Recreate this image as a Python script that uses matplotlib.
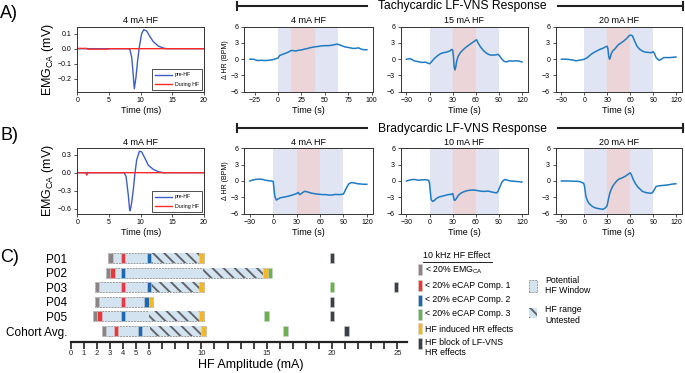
import matplotlib
matplotlib.use('Agg')
import matplotlib.pyplot as plt
from matplotlib.patches import Rectangle
from matplotlib.lines import Line2D

plt.rcParams['font.family'] = ['Liberation Sans', 'DejaVu Sans']
plt.rcParams['mathtext.fontset'] = 'custom'
plt.rcParams['mathtext.rm'] = 'Liberation Sans'
plt.rcParams['mathtext.it'] = 'Liberation Sans:italic'
plt.rcParams['mathtext.bf'] = 'Liberation Sans:bold'
plt.rcParams['hatch.linewidth'] = 1.35
plt.rcParams['hatch.color'] = '#5f6368'

# ---------------- data ----------------
# EMG (panel A / B), time in ms, amplitude in mV
emgA_pre_t = [0, 8.0, 8.3, 8.6, 8.84, 9.0, 9.26, 9.53, 9.8, 10.16, 10.5, 10.95, 11.5, 12.0, 12.8, 13.6, 14.1, 20]
emgA_pre_v = [0, 0, -0.005, -0.06, -0.18, -0.265, -0.19, -0.075, 0.013, 0.10, 0.126, 0.117, 0.078, 0.046, 0.017, 0.004, 0, 0]
emgA_dur_t = [0, 1.5, 1.6, 5.0, 5.1, 20]
emgA_dur_v = [0.002, 0.002, -0.003, -0.003, 0, 0]

emgB_pre_t = [0, 7.4, 7.7, 8.05, 8.25, 8.35, 8.58, 8.84, 9.1, 9.37, 9.8, 10.16, 10.7, 11.2, 12.0, 12.8, 13.6, 20]
emgB_pre_v = [0, 0, -0.065, -0.37, -0.6, -0.63, -0.5, -0.28, -0.01, 0.21, 0.355, 0.345, 0.235, 0.125, 0.055, 0.016, 0, 0]
emgB_dur_t = [0, 1.3, 1.5, 1.7, 20]
emgB_dur_v = [0, 0, -0.04, 0, 0]

# Heart-rate responses (s, delta BPM)
tachy_titles = ['4 mA HF', '15 mA HF', '20 mA HF']
tachy_t = [
    [-30, -26, -22, -18, -14, -10, -6, -2, 0, 2, 5, 8, 11, 14, 16, 19, 22, 25, 28, 31, 34, 37, 40, 43, 46, 50, 54, 58, 61, 63, 65, 68, 71, 74, 77, 80, 83, 86, 89, 92, 95],
    [-30, -25, -20, -15, -10, -5, -2, 0, 3, 6, 10, 14, 18, 22, 26, 29, 30, 31, 32, 33, 34, 35, 37, 40, 44, 48, 52, 56, 60, 61, 63, 66, 70, 74, 78, 82, 86, 89, 91, 94, 97, 100, 104, 108, 112, 116, 120],
    [-30, -25, -20, -15, -11, -7, -3, 0, 4, 8, 12, 16, 20, 24, 28, 30, 31, 32, 33, 34, 35, 37, 40, 44, 48, 52, 56, 59, 61, 63, 66, 69, 72, 76, 80, 84, 88, 90, 92, 94, 96, 98, 101, 104, 108, 112, 116, 120],
]
tachy_v = [
    [0.0, 0.0, -0.25, -0.2, -0.25, -0.2, -0.1, 0.1, 0.2, 0.7, 0.9, 1.1, 1.3, 1.6, 1.6, 1.5, 1.65, 1.7, 1.85, 1.95, 2.1, 2.2, 2.3, 2.35, 2.45, 2.5, 2.5, 2.6, 2.7, 2.8, 2.7, 2.5, 2.3, 2.2, 2.1, 2.0, 2.0, 2.1, 1.85, 1.75, 1.75],
    [0.0, 0.1, -0.3, -0.45, -0.6, -0.55, -0.75, -0.85, -0.4, 0.1, 0.6, 1.0, 1.2, 1.3, 1.5, 1.8, 1.7, 0.5, -1.5, -2.0, -1.5, -0.5, 0.5, 1.2, 1.8, 2.3, 2.7, 3.1, 3.5, 3.6, 3.0, 2.3, 1.6, 1.1, 0.8, 0.75, 0.8, 0.9, 0.6, 0.0, -0.4, -0.5, -0.3, -0.35, -0.3, -0.35, -0.5],
    [0.0, 0.0, -0.05, -0.15, -0.3, -0.2, -0.1, 0.0, 0.3, 0.8, 1.2, 1.5, 1.8, 2.0, 2.3, 2.4, 1.8, 0.5, 0.0, 0.3, 0.9, 1.5, 1.9, 2.6, 3.0, 3.4, 3.9, 4.4, 4.45, 4.3, 3.3, 2.4, 1.9, 1.5, 1.3, 1.25, 1.2, 1.4, 1.0, 0.3, 0.0, -0.2, 0.0, 0.3, 0.3, 0.3, 0.35, 0.4],
]
tachy_edges = [[0, 14, 40, 64], [0, 30, 60, 90], [0, 30, 60, 90]]
tachy_xticks = [[-25, 0, 25, 50, 75, 100], [-30, 0, 30, 60, 90, 120], [-30, 0, 30, 60, 90, 120]]

brady_titles = ['4 mA HF', '10 mA HF', '20 mA HF']
brady_t = [
    [-30, -26, -22, -18, -14, -10, -6, -2, 0, 1, 2, 4, 6, 9, 12, 16, 20, 24, 28, 30, 32, 34, 37, 40, 44, 48, 52, 56, 60, 64, 68, 72, 76, 80, 84, 88, 90, 92, 94, 97, 100, 104, 108, 112, 116, 120],
    [-30, -25, -20, -15, -10, -5, -1, 0, 1, 2, 4, 6, 9, 12, 16, 20, 24, 28, 30, 31, 32, 33, 35, 37, 40, 44, 48, 52, 56, 60, 64, 68, 72, 76, 80, 84, 87, 89, 91, 93, 95, 98, 102, 106, 110, 114, 118, 120],
    [-30, -25, -20, -15, -10, -6, -3, -1, 0, 1, 2, 4, 6, 9, 12, 16, 20, 24, 27, 29, 30, 31, 33, 35, 37, 40, 43, 46, 50, 54, 58, 60, 61, 62, 64, 67, 70, 73, 76, 80, 84, 88, 90, 92, 94, 97, 100, 104, 108, 112, 116, 120],
]
brady_v = [
    [0.0, 0.2, 0.3, 0.35, 0.3, 0.15, 0.05, 0.0, -0.1, -1.5, -2.8, -3.5, -3.3, -3.1, -3.0, -2.9, -2.75, -2.6, -2.4, -2.3, -2.1, -2.5, -2.2, -1.9, -2.0, -2.2, -2.3, -2.4, -2.45, -2.5, -2.5, -2.6, -2.55, -2.45, -2.5, -2.45, -2.4, -1.8, -1.2, -0.5, -0.3, -0.35, -0.5, -0.55, -0.6, -0.6],
    [0.0, 0.2, 0.3, 0.15, 0.2, 0.25, 0.1, -0.5, -2.0, -3.4, -3.75, -3.6, -3.2, -2.95, -2.8, -2.65, -2.5, -2.45, -2.3, -2.8, -3.5, -3.55, -3.2, -2.7, -2.3, -2.0, -1.8, -1.7, -1.65, -1.7, -1.8, -1.9, -1.9, -1.85, -2.0, -2.1, -2.2, -1.9, -1.2, -0.5, 0.0, 0.3, 0.1, 0.0, -0.05, -0.1, -0.15, -0.2],
    [0.0, 0.0, 0.0, -0.05, -0.05, -0.1, -0.3, -0.4, -0.8, -1.7, -2.8, -3.6, -4.1, -4.5, -4.8, -5.0, -5.1, -5.2, -5.0, -4.7, -4.4, -3.7, -2.4, -1.6, -1.0, -0.4, 0.1, 0.4, 0.6, 0.9, 1.3, 1.5, 1.3, 1.0, 0.3, -0.5, -1.1, -1.5, -1.9, -2.1, -2.2, -2.25, -2.0, -1.5, -1.0, -0.9, -0.85, -0.8, -0.75, -0.65, -0.55, -0.5],
]
brady_edges = [[0, 30, 60, 90], [0, 30, 60, 90], [0, 30, 60, 90]]
brady_xticks = [[-30, 0, 30, 60, 90, 120]] * 3

# Panel C thresholds (mA); None = not observed
participants = ['P01', 'P02', 'P03', 'P04', 'P05', 'Cohort Avg.']
thr_emg = [3.05, 2.85, 2.0, 2.0, 1.85, 2.55]
thr_ecap1 = [4.0, 3.2, 4.0, 4.0, 2.2, 3.45]
thr_ecap2 = [6.0, 4.0, 6.0, 5.8, 4.0, 5.3]
thr_ecap3 = [None, 15.2, 20.0, None, 15.0, 16.45]
thr_hr_effect = [10.0, 14.9, 10.0, 6.15, 10.0, 10.15]
thr_hr_block = [20.0, None, 24.9, 20.0, 20.0, 21.1]
untested_lo = [6.0, 10.15, 6.0, None, 6.0, 6.1]
untested_hi = [9.9, 14.75, 9.9, None, 9.9, 10.0]
amp_labeled = [0, 1, 2, 3, 4, 5, 6, 10, 15, 20, 25]

effect_labels = ['< 20% EMG$_{\\mathrm{CA}}$', '< 20% eCAP Comp. 1', '< 20% eCAP Comp. 2',
                 '< 20% eCAP Comp. 3', 'HF induced HR effects', 'HF block of LF-VNS\nHR effects']
effect_colors = ['#8b8386', '#e8383d', '#1c67b1', '#6db14f', '#f2b724', '#3b4045']

# ---------------- styling ----------------
BLUE_PRE = '#3d5fc4'
RED_DUR = '#ff2a2a'
HR_COLOR = '#1f7bc2'
SPAN_BLUE = '#e1e4f3'
SPAN_RED = '#ecd5d8'
WIN_COLOR = '#d3e3f0'

W, H = 685, 373
fig = plt.figure(figsize=(W / 100, H / 100), dpi=100)


def box(l, t, r, b):
    return [l / W, 1 - b / H, (r - l) / W, (b - t) / H]


def fx(x):
    return x / W


def fy(y):
    return 1 - y / H


def style_small(ax):
    ax.tick_params(labelsize=5, length=2.5, width=0.6, pad=1.5, colors='#333333', labelcolor='black')
    for s in ax.spines.values():
        s.set_linewidth(0.7)
        s.set_color('#333333')


def emg_panel(rect, pre_t, pre_v, dur_t, dur_v, yticks):
    ax = fig.add_axes(rect)
    ax.plot(pre_t, pre_v, color=BLUE_PRE, lw=1.0, label='pre-HF')
    ax.plot(dur_t, dur_v, color=RED_DUR, lw=1.0, label='During HF')
    ax.set_xlim(0, 20)
    ax.set_xticks([0, 5, 10, 15, 20])
    ax.set_yticks(yticks)
    ax.set_title('4 mA HF', fontsize=6.5, pad=2.5)
    ax.set_xlabel('Time (ms)', fontsize=6.5, labelpad=1)
    ax.set_ylabel(r'EMG$_{\mathrm{CA}}$ (mV)', fontsize=9, labelpad=1.5)
    style_small(ax)
    leg = ax.legend(loc='lower right', fontsize=3.8, frameon=True, fancybox=False,
                    edgecolor='black', handlelength=3.2, borderaxespad=0.35,
                    borderpad=0.6, labelspacing=0.8, handletextpad=0.6)
    leg.get_frame().set_linewidth(0.6)
    return ax


def hr_panel(rect, t, v, edges, title, xticks, ylabel):
    ax = fig.add_axes(rect)
    ax.axvspan(edges[0], edges[1], color=SPAN_BLUE, lw=0)
    ax.axvspan(edges[1], edges[2], color=SPAN_RED, lw=0)
    ax.axvspan(edges[2], edges[3], color=SPAN_BLUE, lw=0)
    ax.plot(t, v, color=HR_COLOR, lw=1.1)
    ax.set_ylim(-6, 6)
    ax.set_yticks([-6, -3, 0, 3, 6])
    ax.set_xticks(xticks)
    ax.set_title(title, fontsize=6.5, pad=2.5)
    ax.set_xlabel('Time (s)', fontsize=6.5, labelpad=1)
    if ylabel:
        ax.set_ylabel('\u0394 HR (BPM)', fontsize=5, labelpad=1)
    style_small(ax)
    return ax


# Row A
emg_panel(box(77.3, 26.7, 204, 91.7), emgA_pre_t, emgA_pre_v, emgA_dur_t, emgA_dur_v, [-0.2, -0.1, 0.0, 0.1])
hr_lefts = [244, 400.7, 555.7]
hr_rights = [372.7, 527.7, 681.7]
for i in range(3):
    hr_panel(box(hr_lefts[i], 26.7, hr_rights[i], 91.7), tachy_t[i], tachy_v[i], tachy_edges[i],
             tachy_titles[i], tachy_xticks[i], i == 0)

# Row B
emg_panel(box(77.3, 148.3, 204, 213.7), emgB_pre_t, emgB_pre_v, emgB_dur_t, emgB_dur_v, [-0.6, -0.3, 0.0, 0.3])
for i in range(3):
    hr_panel(box(hr_lefts[i], 148.3, hr_rights[i], 213.7), brady_t[i], brady_v[i], brady_edges[i],
             brady_titles[i], brady_xticks[i], i == 0)

# Headers
for yc, txt in [(5.5, 'Tachycardic LF-VNS Response'), (128.3, 'Bradycardic LF-VNS Response')]:
    fig.add_artist(Line2D([fx(237.3), fx(366.7)], [fy(yc), fy(yc)], color='#222222', lw=1.5))
    fig.add_artist(Line2D([fx(237.3), fx(237.3)], [fy(yc - 4), fy(yc + 4)], color='#222222', lw=1.5))
    fig.add_artist(Line2D([fx(557.7), fx(683)], [fy(yc), fy(yc)], color='#222222', lw=1.5))
    fig.add_artist(Line2D([fx(683), fx(683)], [fy(yc - 4), fy(yc + 4)], color='#222222', lw=1.5))
    fig.text(fx(462), fy(yc + 0.5), txt, fontsize=8.7, ha='center', va='center')

# Panel letters
for yc, txt in [(13, 'A)'), (135, 'B)'), (258, 'C)')]:
    fig.text(fx(0), fy(yc), txt, fontsize=13, ha='left', va='center')

# ---------------- Panel C ----------------
px_per_mA = 13.07
xmax = 25.7
axC = fig.add_axes(box(70.7, 250, 70.7 + xmax * px_per_mA, 341.7))
axC.set_xlim(0, xmax)
axC.set_ylim(5.73, -0.55)
bh = 0.68
mw = 0.35
series = [thr_emg, thr_ecap1, thr_ecap2, thr_ecap3, thr_hr_effect, thr_hr_block]
for i in range(len(participants)):
    start = min(thr_emg[i], thr_ecap1[i]) - mw / 2
    end = thr_hr_effect[i] + mw / 2
    axC.add_patch(Rectangle((start, i - bh / 2), end - start, bh, facecolor=WIN_COLOR,
                            edgecolor='#9a9a9a', lw=0.7, linestyle=(0, (2, 1)), zorder=2))
    if untested_lo[i] is not None:
        axC.add_patch(Rectangle((untested_lo[i], i - bh / 2), untested_hi[i] - untested_lo[i], bh,
                                facecolor=WIN_COLOR, edgecolor='#5f6368', lw=0, hatch='\\\\\\', zorder=3))
    for s, col in zip(series, effect_colors):
        if s[i] is not None:
            axC.add_patch(Rectangle((s[i] - mw / 2, i - bh / 2), mw, bh, facecolor=col,
                                    edgecolor='#cfcfcf', lw=0.4, zorder=4))
for s in ['left', 'top', 'right']:
    axC.spines[s].set_visible(False)
axC.spines['bottom'].set_linewidth(1.6)
axC.spines['bottom'].set_color('#222222')
axC.set_xticks(range(0, 26))
axC.set_xticklabels([str(v) if v in amp_labeled else '' for v in range(0, 26)])
axC.tick_params(axis='x', length=5, width=1.2, labelsize=5.5, pad=1, colors='#222222')
axC.set_yticks(range(len(participants)))
axC.set_yticklabels(participants)
axC.tick_params(axis='y', length=0, labelsize=8.5, pad=2.5)
axC.set_xlabel('HF Amplitude (mA)', fontsize=9)
axC.xaxis.set_label_coords(13.8 / xmax, -0.19)

# Legend 1
fig.text(fx(423), fy(256), '10 kHz HF Effect', fontsize=6.4, ha='left', va='center')
fig.add_artist(Line2D([fx(423), fx(492)], [fy(261.5), fy(261.5)], color='black', lw=0.6))
row_c = [269, 285, 300, 314, 328.5, 343]
txt_c = [270, 285.7, 300, 314, 329, 347.5]
for yc, ty, lab, col in zip(row_c, txt_c, effect_labels, effect_colors):
    fig.add_artist(Rectangle((fx(418.3), fy(yc + 5.5)), 4 / W, 11 / H, transform=fig.transFigure,
                             facecolor=col, edgecolor='#cfcfcf', lw=0.4))
    fig.text(fx(425), fy(ty), lab, fontsize=6.3, ha='left', va='center', linespacing=1.2)

# Legend 2
fig.add_artist(Rectangle((fx(529), fy(291.7)), 8.3 / W, 11.7 / H, transform=fig.transFigure,
                         facecolor=WIN_COLOR, edgecolor='#9a9a9a', lw=0.7, linestyle=(0, (2, 1))))
fig.text(fx(545), fy(285.5), 'Potential\nHF Window', fontsize=6.3, ha='left', va='center', linespacing=1.2)
fig.add_artist(Rectangle((fx(529), fy(317.7)), 8 / W, 9.4 / H, transform=fig.transFigure,
                         facecolor=WIN_COLOR, edgecolor='#5f6368', lw=0, hatch='\\\\\\'))
fig.text(fx(545), fy(315), 'HF range\nUntested', fontsize=6.3, ha='left', va='center', linespacing=1.2)

fig.savefig('out.png', dpi=100)
